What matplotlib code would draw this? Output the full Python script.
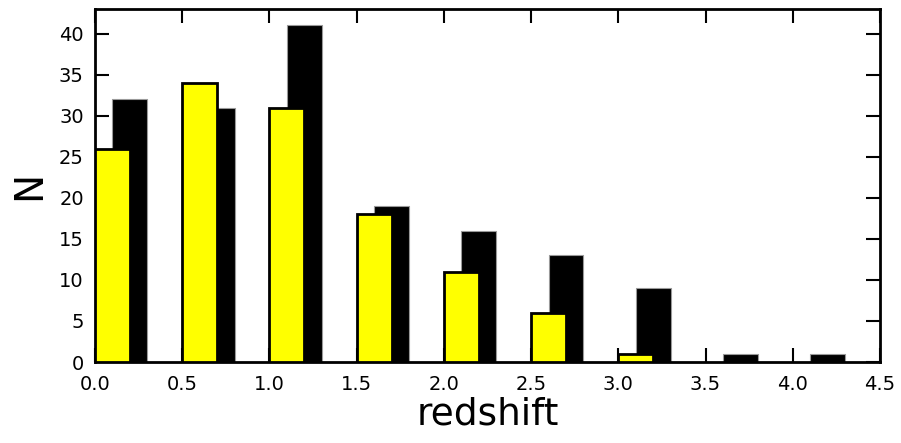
import matplotlib
matplotlib.use("Agg")
import matplotlib.pyplot as plt
import numpy as np

bin_left = [0.0, 0.5, 1.0, 1.5, 2.0, 2.5, 3.0, 3.5, 4.0]
black_counts = [32, 31, 41, 19, 16, 13, 9, 1, 1]
yellow_counts = [26, 34, 31, 18, 11, 6, 1, 0, 0]

fig = plt.figure(figsize=(9.01, 4.43), dpi=100)
ax = fig.add_axes([0.1054, 0.1828, 0.8713, 0.7969])

bl = np.array(bin_left)
ax.bar(bl + 0.1, black_counts, width=0.2, align='edge', color='black',
       edgecolor='#999999', linewidth=0.8, zorder=2)
yc = np.array(yellow_counts)
mask = yc > 0
ax.bar(bl[mask], yc[mask], width=0.2, align='edge', color='#ffff00',
       edgecolor='black', linewidth=2, zorder=3)

ax.set_xlim(0, 4.5)
ax.set_ylim(0, 43)
ax.set_xticks(np.arange(0, 4.51, 0.5))
ax.set_xticklabels([f"{v:.1f}" for v in np.arange(0, 4.51, 0.5)])
ax.set_yticks(range(0, 41, 5))
ax.tick_params(direction='in', length=10, width=1.5, top=True, right=True,
               labelsize=14, colors='black')
ax.tick_params(axis='y', pad=8)
ax.tick_params(axis='x', pad=9)
for s in ax.spines.values():
    s.set_linewidth(2)
ax.set_xlabel("redshift", fontsize=27, labelpad=2)
ax.set_ylabel("N", fontsize=28, labelpad=8)

fig.savefig("out.png", dpi=100)
